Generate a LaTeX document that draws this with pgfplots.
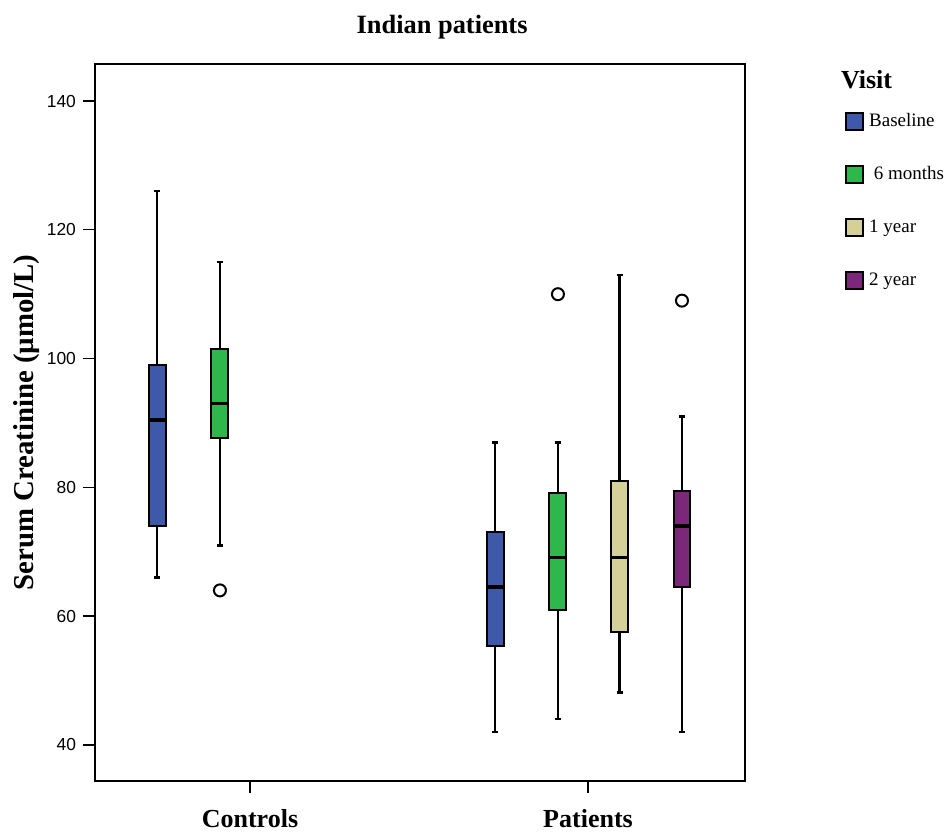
\documentclass[border=0pt]{standalone}
\usepackage{fontspec}
\setmainfont{Liberation Serif}
\newfontfamily\arialf{Liberation Sans}
\usepackage{pgfplots}
\pgfplotsset{compat=1.18}
\definecolor{cbase}{HTML}{3E59A9}
\definecolor{csix}{HTML}{2EB84B}
\definecolor{cone}{HTML}{D4D098}
\definecolor{ctwo}{HTML}{7B287B}

\begin{document}
\begin{tikzpicture}
\useasboundingbox (-47.5pt,-26pt) rectangle (425.5pt,390.5pt);
\begin{axis}[
  name=ax,
  at={(0,0)}, anchor=south west,
  scale only axis,
  width=325pt, height=358.5pt,
  xmin=0.5414, xmax=2.4645,
  ymin=34.4, ymax=145.75,
  xtick={1,2}, xticklabels={Controls,Patients},
  ytick={40,60,80,100,120,140},
  tick align=outside,
  major tick length=6pt,
  tick style={black, line width=0.7pt},
  axis line style={line width=1pt},
  xtick pos=bottom, ytick pos=left,
  /pgf/number format/assume math mode=true,
  yticklabel style={font=\arialf\fontsize{8.7}{10}\selectfont},
  xticklabel style={font=\bfseries\fontsize{13}{15}\selectfont, yshift=-4.5pt},
  ylabel={Serum Creatinine (µmol/L)},
  ylabel style={font=\bfseries\fontsize{14.4}{16}\selectfont, at={(axis description cs:-0.105,0.5)}, anchor=center},
  title={Indian patients},
  title style={font=\bfseries\fontsize{13.2}{15}\selectfont, at={(axis description cs:0.534,1)}, anchor=center, yshift=12.5pt},
  unbounded coords=jump,
  legend style={at={(axis description cs:1.1538,0.936)}, anchor=north west, draw=none, fill=none, inner sep=0pt,
    font=\fontsize{9.5}{11}\selectfont, row sep=15pt,
    nodes={inner sep=1.5pt, text height=6.8pt, text depth=1.7pt}},
  legend cell align=left,
  legend image code/.code={\draw[#1, draw=black, line width=0.9pt] (0pt,-4.25pt) rectangle (8.5pt,4.25pt);},
  legend style={column sep=1pt},
  whisk/.style={forget plot, black, line width=1.3pt},
  bx/.style={forget plot, draw=black, line width=1pt, fill=#1},
  med/.style={forget plot, black, line width=1.8pt},
]
% Controls, Baseline
\addplot[whisk] coordinates {(0.725,66) (0.725,74) (0.725,nan) (0.725,99) (0.725,126) (0.725,nan) (0.716,66) (0.734,66) (0.725,nan) (0.716,126) (0.734,126)};
\addplot[bx=cbase] coordinates {(0.700,74) (0.750,74) (0.750,99) (0.700,99)} -- cycle;
\addplot[med] coordinates {(0.700,90.5) (0.750,90.5)};
% Controls, 6 months
\addplot[whisk] coordinates {(0.911,71) (0.911,87.6) (0.911,nan) (0.911,101.5) (0.911,115) (0.911,nan) (0.902,71) (0.920,71) (0.911,nan) (0.902,115) (0.920,115)};
\addplot[bx=csix] coordinates {(0.886,87.6) (0.936,87.6) (0.936,101.5) (0.886,101.5)} -- cycle;
\addplot[med] coordinates {(0.886,93) (0.936,93)};
% Patients, Baseline
\addplot[whisk] coordinates {(1.725,42) (1.725,55.4) (1.725,nan) (1.725,73) (1.725,87) (1.725,nan) (1.716,42) (1.734,42) (1.725,nan) (1.716,87) (1.734,87)};
\addplot[bx=cbase] coordinates {(1.700,55.4) (1.750,55.4) (1.750,73) (1.700,73)} -- cycle;
\addplot[med] coordinates {(1.700,64.5) (1.750,64.5)};
% Patients, 6 months
\addplot[whisk] coordinates {(1.911,44) (1.911,61) (1.911,nan) (1.911,79.1) (1.911,87) (1.911,nan) (1.902,44) (1.920,44) (1.911,nan) (1.902,87) (1.920,87)};
\addplot[bx=csix] coordinates {(1.886,61) (1.936,61) (1.936,79.1) (1.886,79.1)} -- cycle;
\addplot[med] coordinates {(1.886,69.1) (1.936,69.1)};
% Patients, 1 year
\addplot[whisk] coordinates {(2.094,48.1) (2.094,57.5) (2.094,nan) (2.094,81) (2.094,113) (2.094,nan) (2.085,48.1) (2.103,48.1) (2.094,nan) (2.085,113) (2.103,113)};
\addplot[bx=cone] coordinates {(2.069,57.5) (2.119,57.5) (2.119,81) (2.069,81)} -- cycle;
\addplot[med] coordinates {(2.069,69.1) (2.119,69.1)};
% Patients, 2 year
\addplot[whisk] coordinates {(2.278,42) (2.278,64.6) (2.278,nan) (2.278,79.4) (2.278,91) (2.278,nan) (2.269,42) (2.287,42) (2.278,nan) (2.269,91) (2.287,91)};
\addplot[bx=ctwo] coordinates {(2.253,64.6) (2.303,64.6) (2.303,79.4) (2.253,79.4)} -- cycle;
\addplot[med] coordinates {(2.253,74) (2.303,74)};
% outliers
\addplot[forget plot, only marks, mark=o, mark size=3pt, mark options={line width=1pt, fill=white}] coordinates {(0.911,64) (1.911,110) (2.278,109)};
\addlegendimage{fill=cbase}
\addlegendentry{Baseline}
\addlegendimage{fill=csix}
\addlegendentry{\ 6 months}
\addlegendimage{fill=cone}
\addlegendentry{1 year}
\addlegendimage{fill=ctwo}
\addlegendentry{2 year}
\end{axis}
\node[anchor=west, font=\bfseries\fontsize{13}{15}\selectfont] at ([xshift=44.5pt, yshift=-8pt]ax.north east) {Visit};
\end{tikzpicture}
\end{document}
